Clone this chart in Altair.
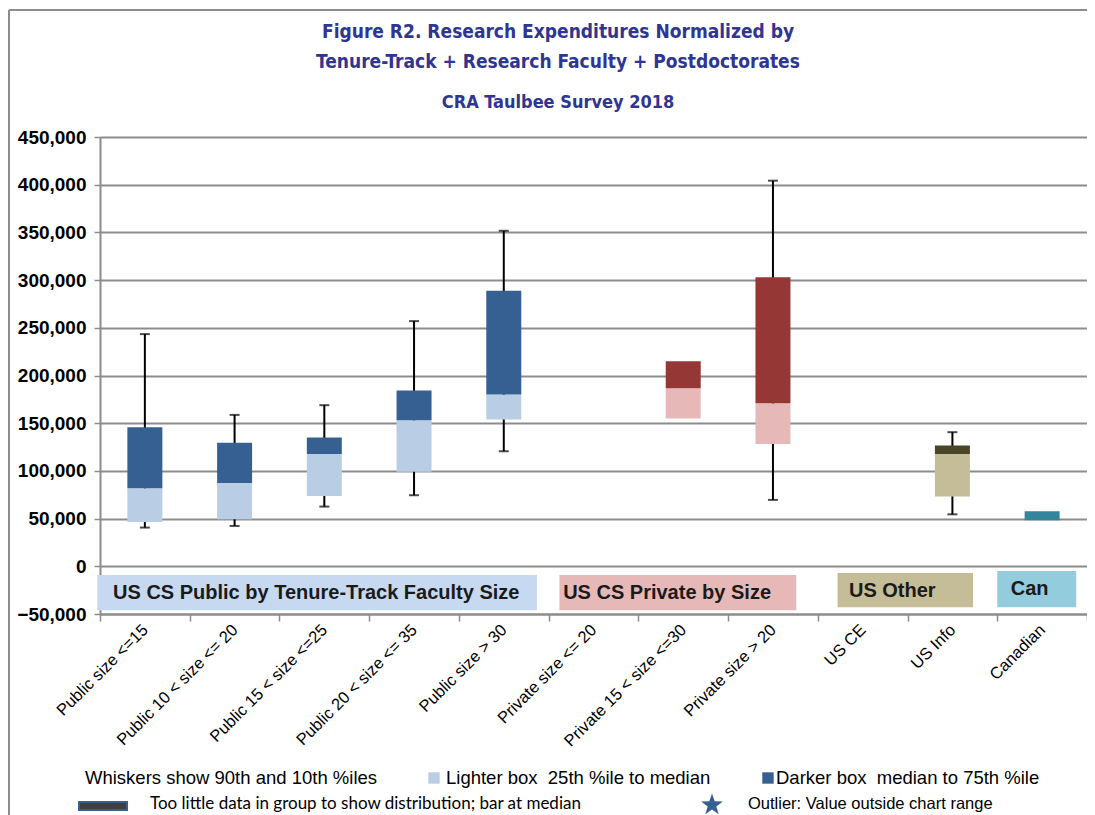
import altair as alt
import pandas as pd

# ---------------- data ----------------
categories = [
    "Public size <=15", "Public 10 < size <= 20", "Public 15 < size <=25",
    "Public 20 < size <= 35", "Public size > 30", "Private size <= 20",
    "Private 15 < size <=30", "Private size > 20", "US CE", "US Info", "Canadian",
]
groups = ["Public", "Public", "Public", "Public", "Public",
          "Private", "Private", "Private", "Other", "Other", "Can"]
p10 = [40600, 42300, 62600, 74500, 120600, None, None, 69600, None, 54500, None]
p25 = [46500, 49300, 73800, 99000, 153800, None, 154900, 128300, None, 73100, 48300]
med = [81800, 87400, 117800, 153100, 180100, None, 186700, 171000, None, 117800, 57700]
p75 = [145800, 129400, 135000, 184300, 288800, None, 215000, 303100, None, 126600, None]
p90 = [243400, 158700, 168900, 257000, 351700, None, None, 404200, None, 140600, None]

group_keys = ["Public", "Private", "Other", "Can"]
group_names = ["US CS Public by Tenure-Track Faculty Size", "US CS Private by Size",
               "US Other", "Can"]
group_start = [-0.03, 5.12, 8.22, 10.0]
group_end = [4.87, 7.76, 9.73, 10.88]
group_top = [-9000, -9000, -7000, -5000]
group_bottom = [-46000, -46000, -43000, -43000]
group_label_x = [2.41, 6.32, 8.83, 10.36]
group_label_y = [-28000, -28000, -26000, -24000]

title_lines = ["Figure R2. Research Expenditures Normalized by",
               "Tenure-Track + Research Faculty + Postdoctorates",
               "CRA Taulbee Survey 2018"]

legend_texts = [
    "Whiskers show 90th and 10th %iles",
    "Lighter box\u00a0 25th %ile to median",
    "Darker box\u00a0 median to 75th %ile",
    "Too little data in group to show distribution; bar at median",
    "Outlier: Value outside chart range",
]

y_ticks = list(range(-50000, 450001, 50000))

# ---------------- styles ----------------
light_colors = ["#b9cde5", "#e6b9b8", "#c4bd97", "#31859c"]
dark_colors = ["#376092", "#953735", "#4a452a", "#31859c"]
band_colors = ["#c6d9f1", "#e6b9b8", "#c4bd97", "#93cddd"]
title_color = "#2e3592"
grid_gray = "#8c8c8c"
arial = "Liberation Sans, Arial, sans-serif"
narrow = "Liberation Sans Narrow, DejaVu Sans Condensed, sans-serif"

df = pd.DataFrame(dict(category=categories, group=groups,
                       p10=p10, p25=p25, med=med, p75=p75, p90=p90))
gdf = pd.DataFrame(dict(key=group_keys, name=group_names, start=group_start,
                        end=group_end, top=group_top, bottom=group_bottom,
                        lx=group_label_x, ly=group_label_y))

yscale = alt.Scale(domain=[-50000, 450000], nice=False, zero=False)
yaxis = alt.Axis(values=y_ticks, format=",d", title=None)


def Y(field):
    return alt.Y(field, scale=yscale, axis=yaxis)


xenc = alt.X("category:N", sort=categories,
             scale=alt.Scale(paddingInner=0, paddingOuter=0),
             axis=alt.Axis(title=None, labelAngle=-45, labelAlign="right",
                           labelBaseline="middle", tickBand="extent",
                           labelPadding=6, labelFontSize=16.5, labelFont=arial,
                           labelColor="black", tickColor=grid_gray, tickSize=7,
                           tickWidth=1.5, domainColor=grid_gray, domainWidth=2,
                           grid=False))

base = alt.Chart(df)

whisk = base.mark_rule(color="black", strokeWidth=2).encode(
    x=xenc, y=Y("p10:Q"), y2="p90:Q")
cap_lo = base.mark_tick(color="black", size=10, thickness=2).encode(x=xenc, y=Y("p10:Q"))
cap_hi = base.mark_tick(color="black", size=10, thickness=2).encode(x=xenc, y=Y("p90:Q"))

light = base.transform_filter("isValid(datum.p25) && isValid(datum.med)").mark_bar(
    width=alt.RelativeBandSize(0.39)).encode(
    x=xenc, y=Y("p25:Q"), y2="med:Q",
    color=alt.Color("group:N", scale=alt.Scale(domain=group_keys, range=light_colors),
                    legend=None))
dark = base.transform_filter("isValid(datum.p75) && isValid(datum.med)").mark_bar(
    width=alt.RelativeBandSize(0.39)).encode(
    x=xenc, y=Y("p75:Q"), y2="med:Q",
    color=alt.Color("group:N", scale=alt.Scale(domain=group_keys, range=dark_colors),
                    legend=None))


def txt(s, x, y, font=arial, size=18.5, align="left", weight="normal", color="black"):
    return alt.Chart(pd.DataFrame({"t": [s]})).mark_text(
        align=align, baseline="middle", font=font, fontSize=size, color=color,
        fontWeight=weight
    ).encode(text="t:N", x=alt.value(x), y=alt.value(y))


one = alt.Data(values=[{"k": 1}])
sq_light = alt.Chart(one).mark_square(size=130, color=light_colors[0], opacity=1).encode(
    x=alt.value(334), y=alt.value(641))
sq_dark = alt.Chart(one).mark_square(size=130, color=dark_colors[0], opacity=1).encode(
    x=alt.value(668), y=alt.value(641))
bar_sym = alt.Chart(one).mark_rect(color="#3f3f3f", stroke=dark_colors[0], strokeWidth=2).encode(
    x=alt.value(-21), x2=alt.value(27), y=alt.value(665), y2=alt.value(673))
star = alt.Chart(one).mark_point(
    shape="M0,-1L0.235,-0.324L0.951,-0.309L0.38,0.124L0.588,0.809L0,0.4L-0.588,0.809L-0.38,0.124L-0.951,-0.309L-0.235,-0.324Z",
    size=520, filled=True, color=dark_colors[0], opacity=1).encode(
    x=alt.value(612), y=alt.value(668))

frame_left = alt.Chart(one).mark_rule(color=grid_gray, strokeWidth=2).encode(
    x=alt.value(-91), y=alt.value(-127), y2=alt.value(700))
frame_top = alt.Chart(one).mark_rule(color=grid_gray, strokeWidth=2).encode(
    x=alt.value(-91), x2=alt.value(1010), y=alt.value(-127))

main = alt.layer(
    whisk, cap_lo, cap_hi, light, dark,
    txt(title_lines[0], 458, -105, font=narrow, size=19, align="center",
        weight="bold", color=title_color),
    txt(title_lines[1], 458, -75, font=narrow, size=19, align="center",
        weight="bold", color=title_color),
    txt(title_lines[2], 458, -34, font=narrow, size=18, align="center",
        weight="bold", color=title_color),
    txt(legend_texts[0], -15, 641), sq_light, txt(legend_texts[1], 346, 641),
    sq_dark, txt(legend_texts[2], 676, 641),
    bar_sym, txt(legend_texts[3], 50, 667, font="Lato, Carlito, sans-serif", size=17), star,
    txt(legend_texts[4], 648, 667, size=16.5),
    frame_left, frame_top,
).resolve_scale(color="independent")

gx = alt.X("start:Q", scale=alt.Scale(domain=[0, 11], nice=False, zero=False), axis=None)
grect = alt.Chart(gdf).mark_rect().encode(
    x=gx, x2="end:Q", y=Y("top:Q"), y2="bottom:Q",
    color=alt.Color("key:N", scale=alt.Scale(domain=group_keys, range=band_colors),
                    legend=None))
gtext = alt.Chart(gdf).mark_text(font=arial, fontSize=20, fontWeight="bold",
                                 color="#1a1a1a", baseline="middle").encode(
    x=alt.X("lx:Q", scale=alt.Scale(domain=[0, 11], nice=False, zero=False), axis=None),
    y=Y("ly:Q"), text="name:N")
bands = alt.layer(grect, gtext)

chart = alt.layer(bands, main).resolve_scale(x="independent", color="independent").properties(
    width=987, height=477,
    padding={"left": 92, "top": 129, "right": 0, "bottom": 201},
    autosize=alt.AutoSizeParams(type="none"),
).configure_view(stroke=None).configure_axisY(
    labelFont=arial, labelFontSize=19, labelFontWeight="bold", labelColor="black",
    labelPadding=8, tickColor=grid_gray, tickSize=6, tickWidth=1.5,
    domainColor=grid_gray, domainWidth=2, gridColor=grid_gray, gridWidth=2,
    gridOpacity=1,
)

chart.save("out.html", embed_options={"renderer": "svg", "actions": False})
